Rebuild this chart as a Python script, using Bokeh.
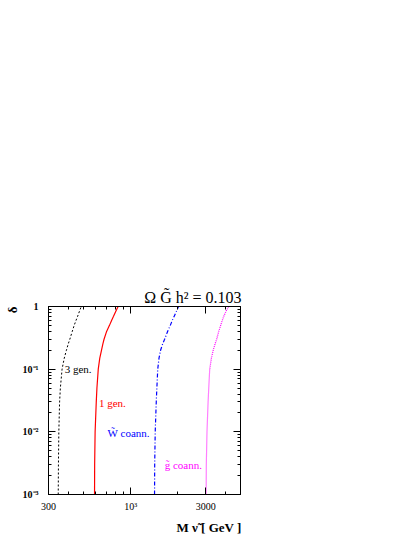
from bokeh.plotting import figure
from bokeh.models import LogAxis, FixedTicker, Label, Range1d, Title
from bokeh.embed import file_html
from bokeh.resources import INLINE

# --- data ---
delta = [0.001, 0.003, 0.01, 0.03, 0.05, 0.1, 0.15, 0.2, 0.25, 0.3, 0.4, 0.5, 0.6, 0.7, 0.85, 1.0]
m_3gen = [346, 347, 349, 353, 357, 366, 378, 390, 400, 410, 425, 437, 449, 460, 473, 485]
m_1gen = [589, 590, 594, 604, 610, 622, 636, 652, 665, 677, 703, 733, 756, 778, 806, 832]
m_wino = [1419, 1422, 1433, 1455, 1468, 1487, 1515, 1550, 1595, 1645, 1718, 1788, 1840, 1893, 1960, 2018]
m_gluino = [3022, 3030, 3060, 3110, 3140, 3185, 3265, 3350, 3440, 3525, 3635, 3740, 3830, 3915, 4055, 4210]

x_major = [300, 1000, 3000]
x_minor = [400, 500, 600, 700, 800, 900, 2000, 4000, 5000]
x_labels = {300: "300", 1000: "10³", 3000: "3000"}
y_major = [0.001, 0.01, 0.1, 1.0]
y_minor = [k * 10.0 ** e for e in (-3, -2, -1) for k in range(2, 10)]
y_labels = {0.001: "10⁻³", 0.01: "10⁻²", 0.1: "10⁻¹", 1.0: "1"}

SERIF = "Liberation Serif"

p = figure(width=412, height=537, x_axis_type="log", y_axis_type="log",
           x_range=Range1d(300, 5000), y_range=Range1d(1e-3, 1),
           output_backend="svg", toolbar_location=None,
           min_border_left=48, min_border_right=172,
           min_border_top=306, min_border_bottom=39)
p.grid.visible = False
p.outline_line_color = "black"
p.outline_line_width = 1
p.background_fill_color = "white"
p.border_fill_color = "white"


def style_axis(ax, labels, bold, show, size):
    ax.major_tick_in = 7
    ax.major_tick_out = 0
    ax.minor_tick_in = 3
    ax.minor_tick_out = 0
    ax.axis_line_color = "black"
    ax.major_tick_line_color = "black"
    ax.minor_tick_line_color = "black"
    ax.major_label_text_font = SERIF
    ax.major_label_text_font_size = size
    ax.major_label_text_font_style = "bold" if bold else "normal"
    ax.major_label_text_color = "black"
    if show:
        ax.major_label_overrides = labels
    else:
        ax.major_label_overrides = {k: "" for k in labels}
        ax.major_label_standoff = 0


p.xaxis.ticker = FixedTicker(ticks=x_major, minor_ticks=x_minor)
p.yaxis.ticker = FixedTicker(ticks=y_major, minor_ticks=y_minor)
style_axis(p.xaxis[0], x_labels, False, True, "10px")
style_axis(p.yaxis[0], y_labels, True, True, "10px")
p.xaxis.major_label_standoff = 6
p.yaxis.major_label_standoff = 10

top = LogAxis(ticker=FixedTicker(ticks=x_major, minor_ticks=x_minor))
style_axis(top, x_labels, False, False, "0px")
p.add_layout(top, "above")
right = LogAxis(ticker=FixedTicker(ticks=y_major, minor_ticks=y_minor))
style_axis(right, y_labels, True, False, "0px")
p.add_layout(right, "right")

p.line(m_3gen, delta, line_color="black", line_width=1, line_dash="2 2")
p.line(m_1gen, delta, line_color="red", line_width=1.2)
p.line(m_wino, delta, line_color="blue", line_width=1.2, line_dash="4 2 1 2")
p.line(m_gluino, delta, line_color="magenta", line_width=1.2, line_dash="1 1")

# curve labels
for txt, x, y, col in [("3 gen.", 380, 0.1, "black"),
                       ("1 gen.", 628, 0.029, "red"),
                       ("W̃ coann.", 713, 0.0095, "blue"),
                       ("g̃ coann.", 1645, 0.003, "magenta")]:
    p.add_layout(Label(x=x, y=y, text=txt, text_color=col, text_font=SERIF,
                       text_font_size="11px", text_baseline="middle"))

# title  Ω_G̃ h² = 0.103
p.add_layout(Title(text="Ω G̃ h² = 0.103", align="right", text_font=SERIF,
                   text_font_size="16px", text_font_style="normal", text_color="black",
                   standoff=2, offset=-1), "above")

# y-axis title (left panel, aligned to the top)
p.add_layout(Title(text="δ", align="right", text_font=SERIF, text_font_size="13px",
                   text_font_style="bold", text_color="black", standoff=0), "left")

# x-axis title (below panel, aligned to the right)
p.add_layout(Title(text="M ν̃ [ GeV ]", align="right", text_font=SERIF, text_font_size="13px",
                   text_font_style="bold", text_color="black", standoff=6, offset=-1), "below")

open("out.html", "w").write(file_html(p, INLINE))
